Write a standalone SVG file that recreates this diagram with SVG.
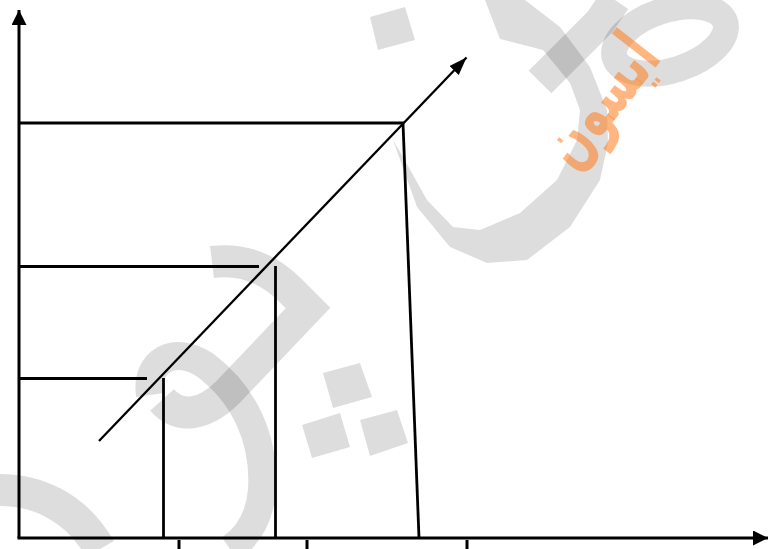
<svg xmlns="http://www.w3.org/2000/svg" width="768" height="549" viewBox="0 0 768 549">
<style>
.wm{fill:none;stroke:#000;stroke-opacity:0.135;stroke-width:32;stroke-linecap:butt}
.wmf{fill:#000;fill-opacity:0.135;stroke:none}
.ln{fill:none;stroke:#000;stroke-width:2.8;stroke-linecap:butt}
.ax{fill:none;stroke:#000;stroke-width:3}
.wt{font-family:"DejaVu Sans",sans-serif;font-weight:bold;font-size:56px;fill:#ff7a1a;fill-opacity:0.55}
</style>
<defs>
<marker id="ah" markerUnits="userSpaceOnUse" markerWidth="16" markerHeight="16" refX="15" refY="7.5" orient="auto">
<path d="M0,0 L15,7.5 L0,15 z" fill="#000"/>
</marker>
<marker id="ah2" markerUnits="userSpaceOnUse" markerWidth="20" markerHeight="14" refX="18" refY="6.5" orient="auto">
<path d="M0,0 L18,6.5 L0,13 z" fill="#000"/>
</marker>
</defs>
<rect width="768" height="549" fill="#fff"/>
<g id="watermark">
<polygon class="wmf" points="370,17 405,7 415,40 378,50"/>
<polygon class="wmf" points="323,373 360,363 372,397 333,408"/>
<polygon class="wmf" points="302,425 340,413 350,447 312,458"/>
<polygon class="wmf" points="360,420 397,410 408,443 370,456"/>
<polygon class="wmf" points="485,0 525,0 560,27 590,67 607,110 608,143 600,180 570,227 527,260 487,263 450,247 417,207 393,140 403,157 427,200 453,227 480,230 520,213 557,180 577,140 580,110 570,83 543,50 500,39"/>
<path class="wm" d="M540,82 L600,22 L615,0"/>
<ellipse class="wm" cx="670" cy="40" rx="58" ry="30" transform="rotate(-18 670 40)" style="stroke-width:26"/>
<path class="wm" d="M212,262 C245,258 270,270 290,290 L308,308 L228,392 C205,415 180,420 162,400"/>
<path class="wm" style="stroke-width:28" d="M150,395 C145,360 175,345 205,365 C245,395 265,440 262,490 C260,515 250,535 230,549"/>
<path class="wm" d="M0,490 C35,490 75,505 100,549"/>
<text class="wt" transform="translate(574,172) rotate(-52) scale(0.8,1.3)">ایسون</text>
</g>
<g id="axes">
<line class="ax" x1="19" y1="538" x2="19" y2="10" marker-end="url(#ah)"/>
<line class="ax" x1="17.5" y1="538" x2="768" y2="538" marker-end="url(#ah)"/>
<line class="ax" x1="179" y1="540" x2="179" y2="549"/>
<line class="ax" x1="307" y1="540" x2="307" y2="549"/>
<line class="ax" x1="467" y1="540" x2="467" y2="549"/>
</g>
<g id="guides">
<line class="ln" x1="19" y1="123" x2="404" y2="123"/>
<line class="ln" x1="403" y1="123" x2="419" y2="538"/>
<line class="ln" x1="19" y1="266.5" x2="259" y2="266.5"/>
<line class="ln" x1="275.5" y1="266" x2="275.5" y2="538"/>
<line class="ln" x1="19" y1="378.5" x2="147" y2="378.5"/>
<line class="ln" x1="163.5" y1="378" x2="163.5" y2="538"/>
</g>
<g id="connectors">
<line x1="99" y1="441" x2="466.5" y2="57.5" stroke="#000" stroke-width="2.3" marker-end="url(#ah2)"/>
</g>
</svg>
